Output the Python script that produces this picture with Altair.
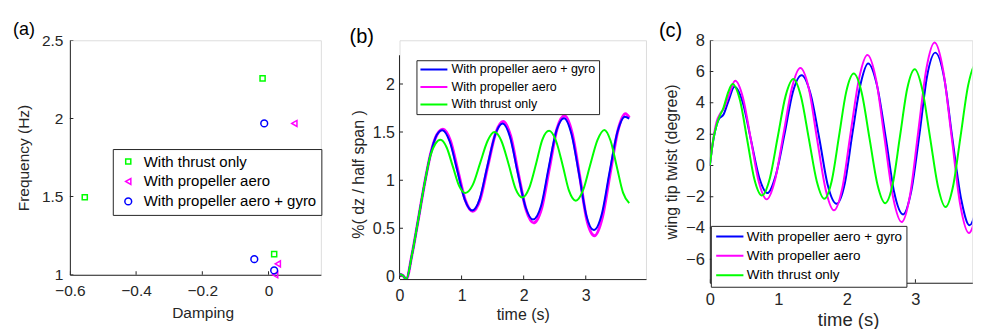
import altair as alt
import pandas as pd

FONT = "Liberation Sans"
AXC = "#262626"
GREEN, MAGENTA, BLUE = "#00FF00", "#FF00FF", "#0000FF"

S_THRUST = "With thrust only"
S_AERO = "With propeller aero"
S_GYRO = "With propeller aero + gyro"

# ---------------- panel (a) data ----------------
a_order = [S_THRUST, S_AERO, S_GYRO]
a_thrust_damping = [-0.555, -0.018, 0.017]
a_thrust_freq = [1.496, 2.256, 1.132]
a_aero_damping = [0.078, 0.028, 0.020]
a_aero_freq = [1.968, 1.070, 1.000]
a_gyro_damping = [-0.013, -0.043, 0.017]
a_gyro_freq = [1.968, 1.100, 1.028]
a_xticks = [-0.6, -0.4, -0.2, 0.0]
a_yticks = [1.0, 1.5, 2.0, 2.5]

# ---------------- panel (b) data ----------------
b_order = [S_GYRO, S_AERO, S_THRUST]
b_t_gyro = [0, 0.05, 0.11, 0.2, 0.3, 0.4, 0.5, 0.6, 0.69, 0.81, 0.93, 1.05, 1.17, 1.29, 1.41, 1.54, 1.66,
            1.78, 1.90, 2.03, 2.15, 2.28, 2.40, 2.53, 2.65, 2.77, 2.89, 3.01, 3.13, 3.26, 3.38, 3.51, 3.63, 3.70]
b_v_gyro = [0.02, 0.01, -0.03, 0.22, 0.58, 0.95, 1.27, 1.47, 1.52, 1.40, 1.10, 0.80, 0.685, 0.80, 1.13, 1.47, 1.59,
            1.45, 1.09, 0.72, 0.59, 0.73, 1.12, 1.52, 1.645, 1.48, 1.07, 0.63, 0.48, 0.65, 1.07, 1.50, 1.66, 1.64]
b_t_aero = [0, 0.05, 0.11, 0.2, 0.3, 0.4, 0.5, 0.6, 0.70, 0.82, 0.94, 1.06, 1.18, 1.30, 1.42, 1.55, 1.67,
            1.79, 1.91, 2.04, 2.16, 2.29, 2.41, 2.54, 2.66, 2.78, 2.90, 3.02, 3.14, 3.27, 3.39, 3.52, 3.64, 3.70]
b_v_aero = [0.02, 0.01, -0.03, 0.22, 0.58, 0.95, 1.27, 1.47, 1.53, 1.41, 1.10, 0.79, 0.675, 0.80, 1.14, 1.49, 1.61,
            1.46, 1.08, 0.69, 0.555, 0.71, 1.11, 1.54, 1.67, 1.49, 1.05, 0.58, 0.42, 0.62, 1.06, 1.52, 1.69, 1.65]
b_t_thrust = [0, 0.05, 0.11, 0.2, 0.3, 0.4, 0.5, 0.58, 0.66, 0.76, 0.86, 0.96, 1.06, 1.18, 1.30, 1.42, 1.53,
              1.64, 1.76, 1.87, 1.98, 2.09, 2.20, 2.30, 2.41, 2.52, 2.63, 2.73, 2.84, 2.96, 3.07, 3.19, 3.30,
              3.40, 3.50, 3.60, 3.70]
b_v_thrust = [0.02, 0.01, -0.03, 0.22, 0.58, 0.95, 1.26, 1.38, 1.42, 1.34, 1.14, 0.94, 0.866, 0.95, 1.18, 1.41, 1.50,
              1.41, 1.16, 0.91, 0.82, 0.92, 1.17, 1.42, 1.513, 1.41, 1.15, 0.89, 0.786, 0.90, 1.155, 1.42, 1.523,
              1.41, 1.14, 0.87, 0.76]
b_xticks = [0, 1, 2, 3]
b_yticks = [0, 0.5, 1, 1.5, 2]

# ---------------- panel (c) data ----------------
c_t_gyro = [0, 0.05, 0.10, 0.13, 0.20, 0.27, 0.36, 0.48, 0.60, 0.72, 0.84, 0.96, 1.09, 1.21, 1.34, 1.47, 1.60,
            1.72, 1.85, 1.97, 2.08, 2.20, 2.31, 2.44, 2.57, 2.69, 2.82, 2.94, 3.06, 3.17, 3.29, 3.42, 3.54, 3.67,
            3.79, 3.92]
c_v_gyro = [0, 1.6, 2.6, 2.95, 3.25, 4.1, 5.03, 4.03, 1.63, -0.77, -1.77, -0.67, 2.0, 4.67, 5.77, 4.57, 1.66,
            -1.25, -2.45, -1.14, 2.03, 5.2, 6.51, 5.1, 1.69, -1.72, -3.13, -1.62, 2.04, 5.70, 7.21, 5.59, 1.69, -2.21,
            -3.83, -2.2]
c_t_aero = [0, 0.05, 0.10, 0.15, 0.20, 0.28, 0.37, 0.485, 0.60, 0.715, 0.83, 0.95, 1.075, 1.20, 1.32, 1.445, 1.565,
            1.69, 1.81, 1.935, 2.055, 2.18, 2.30, 2.425, 2.55, 2.675, 2.80, 2.92, 3.04, 3.16, 3.28, 3.405, 3.53, 3.655,
            3.78, 3.92]
c_v_aero = [0, 1.7, 2.8, 3.3, 3.6, 4.5, 5.41, 4.30, 1.62, -1.06, -2.17, -0.95, 2.02, 4.99, 6.22, 4.90, 1.68,
            -1.54, -2.87, -1.41, 2.10, 5.61, 7.06, 5.50, 1.72, -2.06, -3.62, -1.94, 2.12, 6.18, 7.85, 6.07, 1.77, -2.54,
            -4.32, -2.5]
c_t_thrust = [0, 0.05, 0.10, 0.13, 0.20, 0.27, 0.33, 0.44, 0.545, 0.65, 0.76, 0.875, 0.99, 1.105, 1.22, 1.33, 1.445,
              1.56, 1.67, 1.78, 1.885, 1.99, 2.10, 2.215, 2.33, 2.445, 2.56, 2.67, 2.775, 2.88, 2.99, 3.10, 3.215,
              3.33, 3.44, 3.55, 3.66, 3.77, 3.88, 3.92]
c_v_thrust = [0, 1.65, 2.6, 3.0, 3.7, 4.7, 5.2, 4.16, 1.64, -0.88, -1.92, -0.83, 1.8, 4.43, 5.52, 4.4, 1.7,
              -1.01, -2.13, -0.96, 1.87, 4.70, 5.87, 4.66, 1.73, -1.2, -2.41, -1.16, 1.87, 4.9, 6.15, 4.86, 1.75,
              -1.37, -2.66, -1.32, 1.9, 5.13, 6.47, 6.38]
c_xticks = [0, 1, 2, 3]
c_yticks = [-6, -4, -2, 0, 2, 4, 6, 8]


def make_axis(**kw):
    d = dict(grid=False, ticks=False, tickSize=0, domainColor=AXC, domainWidth=1,
             labelColor=AXC, titleColor=AXC, labelFont=FONT, titleFont=FONT,
             titleFontWeight="normal", labelFlush=False, labelOverlap=False, format="~g")
    d.update(kw)
    return alt.Axis(**d)


def tick_layers(xenc, yenc, xticks, yticks, xmin, ymin):
    dx = pd.DataFrame({"x": xticks, "y": [ymin] * len(xticks)})
    dy = pd.DataFrame({"x": [xmin] * len(yticks), "y": yticks})
    tx = alt.Chart(dx).mark_tick(orient="vertical", size=7, thickness=1, color=AXC, clip=True,
                                 opacity=1).encode(x=xenc(), y=yenc())
    ty = alt.Chart(dy).mark_tick(orient="horizontal", size=7, thickness=1, color=AXC, clip=True,
                                 opacity=1).encode(x=xenc(), y=yenc())
    return [tx, ty]


def panel_title(text, dx, dy, size):
    return alt.TitleParams(text=text, anchor="start", frame="group", dx=dx, dy=dy, fontSize=size,
                           fontWeight="normal", font=FONT, color="#000000", offset=4)


# ---------------- panel (a) ----------------
rows = []
for s, xs, ys in [(S_THRUST, a_thrust_damping, a_thrust_freq),
                  (S_AERO, a_aero_damping, a_aero_freq),
                  (S_GYRO, a_gyro_damping, a_gyro_freq)]:
    for x, y in zip(xs, ys):
        rows.append({"series": s, "x": x, "y": y})
df_a = pd.DataFrame(rows)

ax_a_x = make_axis(values=a_xticks, title="Damping", labelFontSize=15.5, titleFontSize=15.5,
                   labelPadding=9, titlePadding=6, titleX=133)
ax_a_y = make_axis(values=a_yticks, title="Frequency (Hz)", labelFontSize=15.5, titleFontSize=15.5,
                   labelPadding=7, titlePadding=9.5)


def xa():
    return alt.X("x:Q", scale=alt.Scale(domain=[-0.6, 0.158], nice=False, zero=False), axis=ax_a_x)


def ya():
    return alt.Y("y:Q", scale=alt.Scale(domain=[1.0, 2.5], nice=False, zero=False), axis=ax_a_y)


leg_a = alt.Legend(orient="none", legendX=43, legendY=109, title=None, fillColor="white",
                   strokeColor=AXC, padding=5, cornerRadius=0, labelFontSize=15, labelFont=FONT,
                   labelColor="#000000", symbolOffset=3, labelOffset=8, rowPadding=4, labelLimit=400,
                   symbolStrokeWidth=1.5)

pts_a = alt.Chart(df_a).mark_point(filled=False, strokeWidth=1.5, opacity=1).encode(
    x=xa(), y=ya(),
    color=alt.Color("series:N", scale=alt.Scale(domain=a_order, range=[GREEN, MAGENTA, BLUE]), legend=leg_a),
    shape=alt.Shape("series:N", scale=alt.Scale(domain=a_order, range=["square", "triangle-left", "circle"]),
                    legend=leg_a),
    size=alt.Size("series:N", scale=alt.Scale(domain=a_order, range=[26, 46, 40]), legend=leg_a),
)
chart_a = alt.layer(*tick_layers(xa, ya, a_xticks, a_yticks, -0.6, 1.0), pts_a).properties(
    width=251.5, height=235, title=panel_title("(a)", -57, 10, 18))


# ---------------- line panels ----------------
def line_df(ts, vs, s):
    return pd.DataFrame({"x": ts, "y": vs, "series": [s] * len(ts)})


df_b = pd.concat([line_df(b_t_aero, b_v_aero, S_AERO), line_df(b_t_gyro, b_v_gyro, S_GYRO),
                  line_df(b_t_thrust, b_v_thrust, S_THRUST)])
df_c = pd.concat([line_df(c_t_aero, c_v_aero, S_AERO), line_df(c_t_gyro, c_v_gyro, S_GYRO),
                  line_df(c_t_thrust, c_v_thrust, S_THRUST)])

color_scale = alt.Scale(domain=b_order, range=[BLUE, MAGENTA, GREEN])

# panel (b)
ax_b_x = make_axis(values=b_xticks, title="time (s)", labelFontSize=16, titleFontSize=16,
                   labelPadding=8, titlePadding=4)
ax_b_y = make_axis(values=b_yticks, title="%( dz / half span )", labelFontSize=16, titleFontSize=16,
                   labelPadding=5, titlePadding=6, domain=False, titleY=134)


def xb():
    return alt.X("x:Q", scale=alt.Scale(domain=[0, 3.97], nice=False, zero=False), axis=ax_b_x)


def yb():
    return alt.Y("y:Q", scale=alt.Scale(domain=[-0.03, 2.456], nice=False, zero=False), axis=ax_b_y)


leg_b = alt.Legend(orient="none", legendX=17, legendY=20, title=None, fillColor="white",
                   strokeColor=AXC, padding=3, cornerRadius=0, labelFontSize=12.5, labelFont=FONT,
                   labelColor="#000000", symbolType="stroke", symbolSize=729, symbolStrokeWidth=2,
                   symbolOffset=0, labelOffset=3, rowPadding=4.5, clipHeight=12.5, labelLimit=400)

b_layers = tick_layers(xb, yb, b_xticks, b_yticks, 0, -0.03)
b_layers.append(alt.Chart(pd.DataFrame({"x": [0], "y": [-0.03], "y2": [2.3]})).mark_rule(
    color=AXC, strokeWidth=1).encode(x=xb(), y=yb(), y2="y2:Q"))
for s, w in [(S_AERO, 3), (S_GYRO, 2), (S_THRUST, 2)]:
    b_layers.append(alt.Chart(df_b).transform_filter(alt.datum.series == s).mark_line(
        strokeWidth=w, interpolate="monotone", clip=True).encode(
        x=xb(), y=yb(), color=alt.Color("series:N", scale=color_scale, legend=leg_b)))
chart_b = alt.layer(*b_layers).properties(width=247, height=239.3, title=panel_title("(b)", -50, 11, 20))

# panel (c)
ax_c_x = make_axis(values=c_xticks, title="time (s)", labelFontSize=16.5, titleFontSize=18.5,
                   labelPadding=9, titlePadding=2, titleX=138.5)
ax_c_y = make_axis(values=c_yticks, title="wing tip twist (degree)", labelFontSize=16.5, titleFontSize=16,
                   labelPadding=5.5, titlePadding=6)


def xc():
    return alt.X("x:Q", scale=alt.Scale(domain=[0, 3.83], nice=False, zero=False), axis=ax_c_x)


def yc():
    return alt.Y("y:Q", scale=alt.Scale(domain=[-7.5, 8], nice=False, zero=False), axis=ax_c_y)


leg_c = alt.Legend(orient="none", legendX=1, legendY=186, title=None, fillColor="white",
                   strokeColor=AXC, padding=4, cornerRadius=0, labelFontSize=13.5, labelFont=FONT,
                   labelColor="#000000", symbolType="stroke", symbolSize=745, symbolStrokeWidth=2,
                   symbolOffset=0, labelOffset=2, rowPadding=4.3, clipHeight=13.5, labelLimit=400)

c_layers = tick_layers(xc, yc, c_xticks, c_yticks, 0, -7.5)
for s, w in [(S_GYRO, 2), (S_AERO, 2), (S_THRUST, 2)]:
    c_layers.append(alt.Chart(df_c).transform_filter(alt.datum.series == s).mark_line(
        strokeWidth=w, interpolate="monotone", clip=True).encode(
        x=xc(), y=yc(), color=alt.Color("series:N", scale=color_scale, legend=leg_c)))
chart_c = alt.layer(*c_layers).properties(width=263, height=243, title=panel_title("(c)", -51, 13, 20))

inner = alt.hconcat(chart_b, chart_c, spacing=64, bounds="flush").resolve_scale(color="independent")
chart = alt.hconcat(chart_a, inner, spacing=78.3, bounds="flush").resolve_scale(
    color="independent", shape="independent", size="independent").properties(
    padding={"left": 4, "top": 12, "right": 0, "bottom": 0}
).configure_view(stroke=None).configure(background="white")

chart.save("out.html", embed_options={"renderer": "svg", "actions": False})
